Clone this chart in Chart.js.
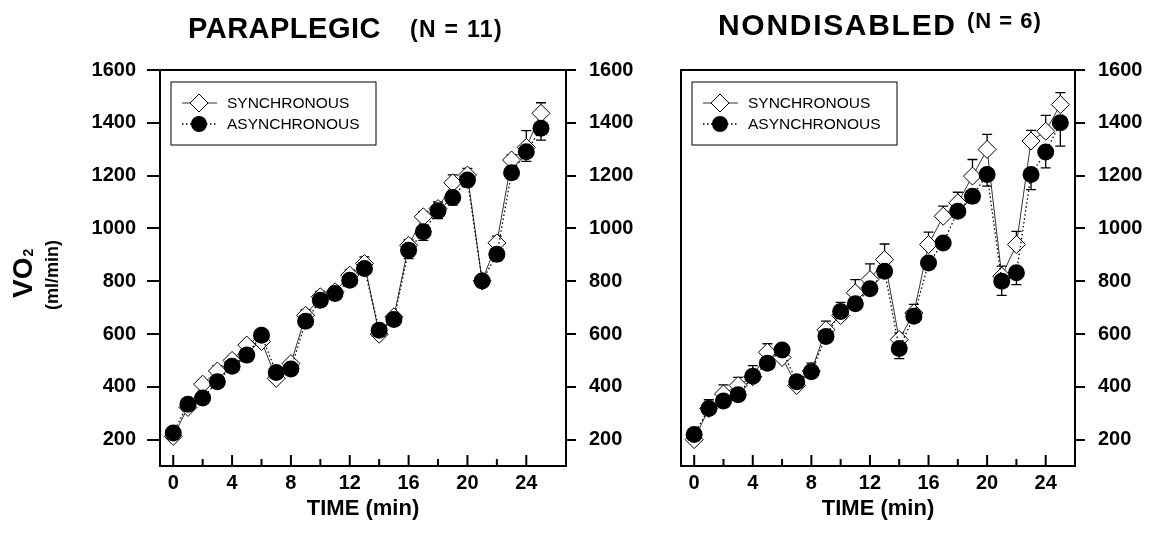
<!DOCTYPE html>
<html>
<head>
<meta charset="utf-8">
<script src="https://cdn.jsdelivr.net/npm/chart.js@4.4.1/dist/chart.umd.min.js"></script>
<style>
  body { margin: 0; background: #fff; width: 1153px; height: 548px; overflow: hidden; position: relative; }
  #wrapA { position: absolute; left: 0; top: 0; width: 650px; height: 548px; }
  #wrapB { position: absolute; left: 650px; top: 0; width: 503px; height: 548px; }
</style>
</head>
<body>
<div id="wrapA"><canvas id="chartA" width="650" height="548"></canvas></div>
<div id="wrapB"><canvas id="chartB" width="503" height="548"></canvas></div>
<script>
// time points (min)
var time = [0, 1, 2, 3, 4, 5, 6, 7, 8, 9, 10, 11, 12, 13, 14, 15, 16, 17, 18, 19, 20, 21, 22, 23, 24, 25];
var xTicks = [0, 4, 8, 12, 16, 20, 24];
var xMinorTicks = [2, 6, 10, 14, 18, 22];
var yTicks = [200, 400, 600, 800, 1000, 1200, 1400, 1600];

// paraplegic (N = 11)
var paraSync = [212, 322, 410, 460, 500, 558, 572, 432, 488, 671, 741, 760, 823, 867, 599, 665, 936, 1044, 1075, 1173, 1202, 801, 945, 1259, 1307, 1436];
var paraSyncErr = [15, 20, 15, 20, 15, 15, 15, 15, 15, 20, 20, 20, 20, 25, 15, 15, 20, 20, 25, 30, 25, 15, 26, 20, 63, 40];
var paraAsync = [225, 334, 358, 419, 478, 520, 595, 454, 467, 648, 728, 753, 804, 848, 614, 655, 917, 987, 1067, 1117, 1183, 801, 902, 1211, 1290, 1379];
var paraAsyncErr = [10, 15, 15, 15, 15, 15, 15, 15, 15, 20, 15, 15, 20, 15, 20, 20, 31, 32, 30, 29, 26, 20, 25, 25, 36, 45];

// nondisabled (N = 6)
var nonSync = [200, 318, 373, 405, 438, 531, 511, 405, 460, 616, 670, 756, 806, 882, 579, 680, 939, 1046, 1097, 1198, 1299, 819, 939, 1331, 1368, 1469];
var nonSyncErr = [15, 33, 34, 31, 42, 32, 25, 15, 30, 33, 50, 50, 60, 59, 25, 32, 47, 38, 40, 63, 57, 38, 50, 40, 60, 45];
var nonAsync = [219, 318, 346, 370, 440, 489, 539, 419, 457, 591, 685, 715, 771, 838, 545, 667, 869, 945, 1065, 1122, 1204, 800, 832, 1204, 1289, 1400];
var nonAsyncErr = [12, 12, 12, 12, 12, 12, 12, 12, 12, 15, 15, 15, 15, 20, 38, 20, 15, 15, 20, 25, 44, 54, 45, 57, 60, 88];

var seriesNames = ['SYNCHRONOUS', 'ASYNCHRONOUS'];

var FONT = "'Liberation Sans', Arial, sans-serif";

function points(vals) {
  return time.map(function (t, i) { return { x: t, y: vals[i] }; });
}

function makeDatasets(sync, syncErr, asyn, asynErr) {
  return [
    {
      label: seriesNames[0], data: points(sync), err: syncErr, errDir: 1, order: 2,
      borderColor: '#333', borderWidth: 1, pointStyle: 'rectRot', pointRadius: 9,
      pointBackgroundColor: '#fff', pointBorderColor: '#000', pointBorderWidth: 1
    },
    {
      label: seriesNames[1], data: points(asyn), err: asynErr, errDir: -1, order: 1,
      borderColor: '#000', borderWidth: 1.3, borderDash: [1.5, 2.5], pointStyle: 'circle', pointRadius: 8.5,
      pointBackgroundColor: '#000', pointBorderColor: '#000', pointBorderWidth: 0
    }
  ];
}

// error bars, frame, inward x ticks, legend, titles
var panelPlugin = {
  id: 'panel',
  beforeDatasetsDraw: function (chart) {
    var ctx = chart.ctx, ca = chart.chartArea;
    var xs = chart.scales.x, ys = chart.scales.y;
    ctx.save();
    ctx.strokeStyle = '#000';
    ctx.lineWidth = 1.3;
    chart.data.datasets.forEach(function (ds) {
      ds.data.forEach(function (p, j) {
        var px = xs.getPixelForValue(p.x);
        var y0 = ys.getPixelForValue(p.y);
        var y1 = ys.getPixelForValue(p.y + ds.errDir * ds.err[j]);
        ctx.beginPath();
        ctx.moveTo(px, y0); ctx.lineTo(px, y1);
        ctx.moveTo(px - 5, y1); ctx.lineTo(px + 5, y1);
        ctx.stroke();
      });
    });
    // frame
    ctx.lineWidth = 2;
    ctx.strokeRect(ca.left, ca.top, ca.right - ca.left, ca.bottom - ca.top);
    // inward x ticks
    ctx.beginPath();
    xTicks.forEach(function (v) {
      var px = xs.getPixelForValue(v);
      ctx.moveTo(px, ca.bottom); ctx.lineTo(px, ca.bottom - 11);
    });
    xMinorTicks.forEach(function (v) {
      var px = xs.getPixelForValue(v);
      ctx.moveTo(px, ca.bottom); ctx.lineTo(px, ca.bottom - 7);
    });
    ctx.stroke();
    ctx.restore();
  },
  afterDraw: function (chart, args, opts) {
    var ctx = chart.ctx, ca = chart.chartArea;
    ctx.save();
    // legend
    var bx = ca.left + 11, by = ca.top + 12;
    ctx.lineWidth = 1;
    ctx.strokeStyle = '#000';
    ctx.strokeRect(bx, by, 205, 63);
    var rows = [ca.top + 33, ca.top + 54];
    var mx = ca.left + 39;
    // sync sample
    ctx.strokeStyle = '#333';
    ctx.beginPath(); ctx.moveTo(ca.left + 22, rows[0]); ctx.lineTo(ca.left + 57, rows[0]); ctx.stroke();
    ctx.fillStyle = '#fff'; ctx.strokeStyle = '#000';
    ctx.beginPath();
    ctx.moveTo(mx - 9, rows[0]); ctx.lineTo(mx, rows[0] - 9); ctx.lineTo(mx + 9, rows[0]); ctx.lineTo(mx, rows[0] + 9);
    ctx.closePath(); ctx.fill(); ctx.stroke();
    // async sample
    ctx.setLineDash([1.5, 2.5]);
    ctx.lineWidth = 1.3;
    ctx.beginPath(); ctx.moveTo(ca.left + 22, rows[1]); ctx.lineTo(ca.left + 57, rows[1]); ctx.stroke();
    ctx.setLineDash([]);
    ctx.fillStyle = '#000';
    ctx.beginPath(); ctx.arc(mx, rows[1], 8, 0, Math.PI * 2); ctx.fill();
    ctx.font = '15.5px ' + FONT;
    ctx.textBaseline = 'middle';
    ctx.fillText(seriesNames[0], ca.left + 67, rows[0] + 1);
    ctx.fillText(seriesNames[1], ca.left + 67, rows[1] + 1);

    // titles
    ctx.textBaseline = 'alphabetic';
    opts.titles.forEach(function (t) {
      ctx.font = 'bold ' + t.size + 'px ' + FONT;
      ctx.letterSpacing = t.spacing + 'px';
      ctx.fillText(t.text, t.x, t.y);
    });
    ctx.letterSpacing = '0px';

    // y axis title
    if (opts.yTitle) {
      ctx.save();
      ctx.translate(32, 298);
      ctx.rotate(-Math.PI / 2);
      ctx.font = 'bold 28px ' + FONT;
      ctx.fillText('VO', 0, 0);
      var w = ctx.measureText('VO').width;
      ctx.font = 'bold 14px ' + FONT;
      ctx.fillText('2', w + 1, 1);
      ctx.restore();
      ctx.save();
      ctx.translate(53, 275);
      ctx.rotate(-Math.PI / 2);
      ctx.font = 'bold 18px ' + FONT;
      ctx.textAlign = 'center';
      ctx.textBaseline = 'middle';
      ctx.fillText('(ml/min)', 0, 0);
      ctx.restore();
    }
    ctx.restore();
  }
};

function yAxis(position, tickLen, pad, width) {
  return {
    type: 'linear', position: position, min: 100, max: 1600,
    afterBuildTicks: function (s) { s.ticks = yTicks.map(function (v) { return { value: v }; }); },
    afterFit: function (s) { s.width = width; },
    grid: { drawOnChartArea: false, drawTicks: true, tickLength: tickLen, color: '#000', lineWidth: 2 },
    border: { display: false },
    ticks: {
      color: '#000', padding: pad, font: { family: FONT, size: 20, weight: 'bold' },
      callback: function (v) { return String(v); }
    }
  };
}

function xAxis(max) {
  return {
    type: 'linear', min: -0.9, max: max,
    afterBuildTicks: function (s) { s.ticks = xTicks.map(function (v) { return { value: v }; }); },
    afterFit: function (s) { s.height = 82; },
    grid: { display: false, drawTicks: false },
    border: { display: false },
    ticks: {
      color: '#000', padding: 5, maxRotation: 0, autoSkip: false,
      font: { family: FONT, size: 20, weight: 'bold' },
      callback: function (v) { return String(v); }
    },
    title: {
      display: true, text: 'TIME (min)', color: '#000',
      font: { family: FONT, size: 22, weight: 'bold' },
      padding: { top: 0, bottom: 26 }
    }
  };
}

var common = {
  responsive: false,
  animation: false,
  events: [],
  plugins: { legend: { display: false }, tooltip: { enabled: false } }
};

new Chart(document.getElementById('chartA'), {
  type: 'line',
  data: { datasets: makeDatasets(paraSync, paraSyncErr, paraAsync, paraAsyncErr) },
  options: Object.assign({}, common, {
    layout: { padding: { top: 70, left: 0, right: 0, bottom: 0 } },
    scales: {
      x: xAxis(26.7),
      y: yAxis('left', 13, 11, 160),
      y2: yAxis('right', 10, 13, 84)
    },
    plugins: {
      legend: { display: false }, tooltip: { enabled: false },
      panel: {
        yTitle: true,
        titles: [
          { text: 'PARAPLEGIC', x: 188, y: 38, size: 29, spacing: 0.5 },
          { text: '(N = 11)', x: 410, y: 37, size: 23, spacing: 1.3 }
        ]
      }
    }
  }),
  plugins: [panelPlugin]
});

new Chart(document.getElementById('chartB'), {
  type: 'line',
  data: { datasets: makeDatasets(nonSync, nonSyncErr, nonAsync, nonAsyncErr) },
  options: Object.assign({}, common, {
    layout: { padding: { top: 70, left: 31, right: 0, bottom: 0 } },
    scales: {
      x: xAxis(26),
      y: yAxis('right', 10, 13, 78)
    },
    plugins: {
      legend: { display: false }, tooltip: { enabled: false },
      panel: {
        yTitle: false,
        titles: [
          { text: 'NONDISABLED', x: 68, y: 35, size: 30, spacing: 1.7 },
          { text: '(N = 6)', x: 317, y: 28, size: 22, spacing: 1 }
        ]
      }
    }
  }),
  plugins: [panelPlugin]
});
</script>
</body>
</html>
